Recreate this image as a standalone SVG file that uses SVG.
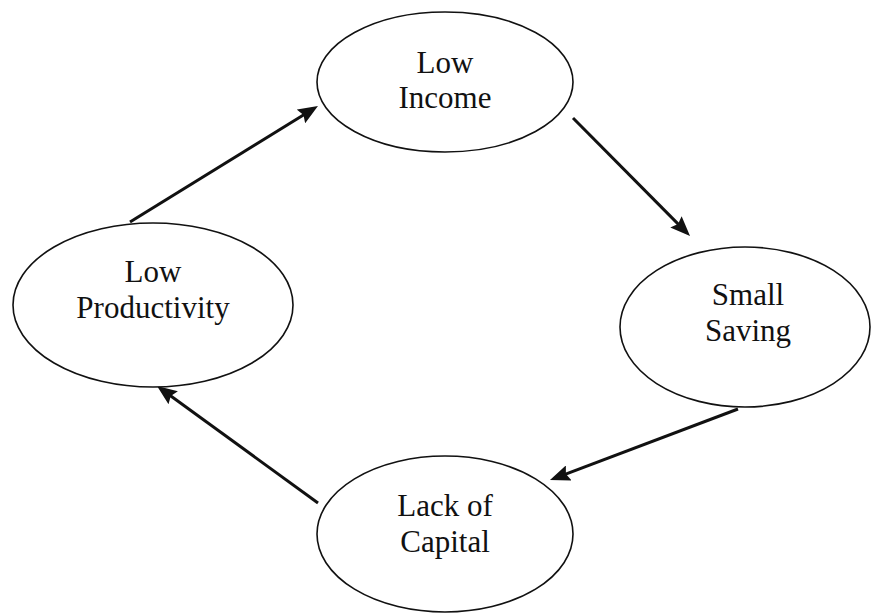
<svg xmlns="http://www.w3.org/2000/svg" width="871" height="614" viewBox="0 0 871 614">
<style>
.node ellipse{fill:#fff;stroke:#111;stroke-width:1.6}
.node text{font-size:31px;fill:#111;text-anchor:middle}
.edge{stroke:#111;stroke-width:3;fill:none;marker-end:url(#ah)}
</style>
<defs>
<marker id="ah" markerUnits="userSpaceOnUse" markerWidth="20" markerHeight="16" viewBox="0 0 20 16" refX="11" refY="8" orient="auto">
<path d="M0,0 L20,8 L0,16 L3,8 z" fill="#111"/>
</marker>
</defs>
<rect width="871" height="614" fill="#fff"/>
<g id="connectors">
<line class="edge" x1="130" y1="222" x2="310.3" y2="110.7"/>
<line class="edge" x1="573" y1="118" x2="683.7" y2="229.6"/>
<line class="edge" x1="738" y1="409" x2="558.4" y2="476.8"/>
<line class="edge" x1="318" y1="503" x2="164.3" y2="391.3"/>
</g>
<g font-family="Liberation Serif, Times New Roman, serif">
<g id="low-income" class="node">
<ellipse cx="445" cy="82" rx="128" ry="70"/>
<text x="445" y="73">Low</text>
<text x="445" y="108">Income</text>
</g>
<g id="small-saving" class="node">
<ellipse cx="745" cy="327" rx="125" ry="80"/>
<text x="748" y="305">Small</text>
<text x="748" y="341">Saving</text>
</g>
<g id="lack-of-capital" class="node">
<ellipse cx="445" cy="534" rx="128" ry="78"/>
<text x="445" y="516">Lack of</text>
<text x="445" y="552">Capital</text>
</g>
<g id="low-productivity" class="node">
<ellipse cx="153" cy="305" rx="140" ry="82"/>
<text x="153" y="282">Low</text>
<text x="153" y="318">Productivity</text>
</g>
</g>
</svg>
